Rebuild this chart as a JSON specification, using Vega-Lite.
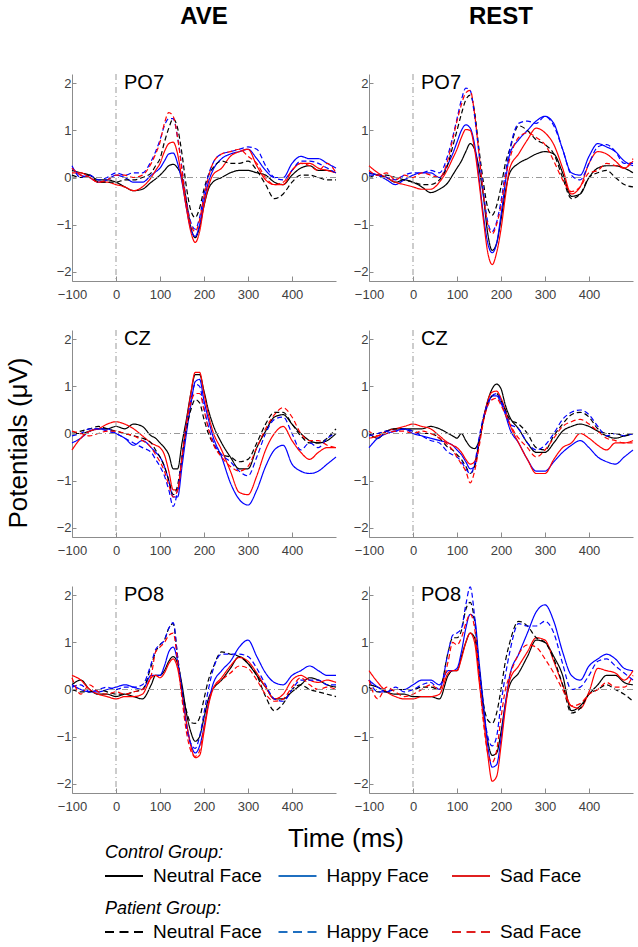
{
"$schema":"https://vega.github.io/schema/vega-lite/v6.json",
"background":"white",
"padding":5,
"spacing":-8,
"config":{"font":"Liberation Sans","view":{"stroke":null},"axis":{"domainColor":"#8c8c8c","tickColor":"#8c8c8c","labelColor":"#404040","labelFontSize":13,"grid":false,"title":null,"labelFlush":false}},
"datasets":{
"leghead":[{"g":"Control","h":"Control Group:"},{"g":"Patient","h":"Patient Group:"}],
"legitem":[{"g":"Control","f":"Neutral Face","k":"CN"},{"g":"Control","f":"Happy Face","k":"CH"},{"g":"Control","f":"Sad Face","k":"CS"},{"g":"Patient","f":"Neutral Face","k":"PN"},{"g":"Patient","f":"Happy Face","k":"PH"},{"g":"Patient","f":"Sad Face","k":"PS"}],
"erp":[
{"c":"AVE","e":"PO7","t":-100,"CN":0.15,"CH":0.2,"CS":0.1,"PN":0.05,"PH":0.25,"PS":0.2},
{"c":"AVE","e":"PO7","t":-80,"CN":0.1,"CH":0.05,"CS":0.1,"PN":0.0,"PH":0.0,"PS":0.05},
{"c":"AVE","e":"PO7","t":-60,"CN":0.05,"CH":0.0,"CS":0.0,"PN":0.05,"PH":0.05,"PS":0.0},
{"c":"AVE","e":"PO7","t":-40,"CN":-0.05,"CH":-0.1,"CS":-0.1,"PN":-0.1,"PH":-0.05,"PS":-0.1},
{"c":"AVE","e":"PO7","t":-20,"CN":-0.05,"CH":-0.05,"CS":-0.1,"PN":-0.1,"PH":0.0,"PS":-0.05},
{"c":"AVE","e":"PO7","t":0,"CN":-0.1,"CH":0.05,"CS":-0.15,"PN":-0.1,"PH":0.1,"PS":0.05},
{"c":"AVE","e":"PO7","t":20,"CN":-0.2,"CH":0.0,"CS":-0.2,"PN":-0.05,"PH":0.05,"PS":0.05},
{"c":"AVE","e":"PO7","t":40,"CN":-0.28,"CH":-0.1,"CS":-0.28,"PN":-0.05,"PH":0.1,"PS":0.0},
{"c":"AVE","e":"PO7","t":60,"CN":-0.25,"CH":-0.1,"CS":-0.2,"PN":0.0,"PH":0.1,"PS":0.05},
{"c":"AVE","e":"PO7","t":80,"CN":-0.1,"CH":0.05,"CS":0.0,"PN":0.1,"PH":0.35,"PS":0.3},
{"c":"AVE","e":"PO7","t":90,"CN":-0.03,"CH":0.12,"CS":0.15,"PN":0.25,"PH":0.55,"PS":0.5},
{"c":"AVE","e":"PO7","t":100,"CN":0.05,"CH":0.2,"CS":0.3,"PN":0.4,"PH":0.8,"PS":0.75},
{"c":"AVE","e":"PO7","t":110,"CN":0.15,"CH":0.35,"CS":0.55,"PN":0.75,"PH":1.1,"PS":1.15},
{"c":"AVE","e":"PO7","t":120,"CN":0.25,"CH":0.5,"CS":0.72,"PN":1.05,"PH":1.25,"PS":1.38},
{"c":"AVE","e":"PO7","t":130,"CN":0.28,"CH":0.52,"CS":0.75,"PN":1.25,"PH":1.25,"PS":1.3},
{"c":"AVE","e":"PO7","t":140,"CN":0.2,"CH":0.3,"CS":0.5,"PN":1.05,"PH":0.85,"PS":0.85},
{"c":"AVE","e":"PO7","t":150,"CN":0.0,"CH":-0.1,"CS":-0.05,"PN":0.5,"PH":0.2,"PS":0.15},
{"c":"AVE","e":"PO7","t":160,"CN":-0.5,"CH":-0.65,"CS":-0.65,"PN":-0.2,"PH":-0.5,"PS":-0.55},
{"c":"AVE","e":"PO7","t":170,"CN":-1.05,"CH":-1.1,"CS":-1.15,"PN":-0.7,"PH":-0.95,"PS":-1.0},
{"c":"AVE","e":"PO7","t":180,"CN":-1.28,"CH":-1.25,"CS":-1.38,"PN":-0.85,"PH":-1.1,"PS":-1.15},
{"c":"AVE","e":"PO7","t":190,"CN":-1.05,"CH":-1.0,"CS":-1.15,"PN":-0.65,"PH":-0.85,"PS":-0.9},
{"c":"AVE","e":"PO7","t":200,"CN":-0.6,"CH":-0.5,"CS":-0.6,"PN":-0.25,"PH":-0.35,"PS":-0.4},
{"c":"AVE","e":"PO7","t":210,"CN":-0.25,"CH":-0.1,"CS":-0.2,"PN":0.05,"PH":0.05,"PS":0.0},
{"c":"AVE","e":"PO7","t":220,"CN":-0.1,"CH":0.15,"CS":0.05,"PN":0.2,"PH":0.3,"PS":0.3},
{"c":"AVE","e":"PO7","t":240,"CN":0.0,"CH":0.4,"CS":0.2,"PN":0.35,"PH":0.5,"PS":0.5},
{"c":"AVE","e":"PO7","t":260,"CN":0.1,"CH":0.5,"CS":0.45,"PN":0.3,"PH":0.55,"PS":0.55},
{"c":"AVE","e":"PO7","t":280,"CN":0.15,"CH":0.55,"CS":0.55,"PN":0.3,"PH":0.6,"PS":0.6},
{"c":"AVE","e":"PO7","t":300,"CN":0.15,"CH":0.6,"CS":0.6,"PN":0.35,"PH":0.65,"PS":0.45},
{"c":"AVE","e":"PO7","t":320,"CN":0.1,"CH":0.4,"CS":0.25,"PN":0.15,"PH":0.6,"PS":0.3},
{"c":"AVE","e":"PO7","t":340,"CN":0.05,"CH":0.15,"CS":-0.05,"PN":-0.15,"PH":0.25,"PS":0.0},
{"c":"AVE","e":"PO7","t":360,"CN":-0.1,"CH":0.0,"CS":-0.15,"PN":-0.45,"PH":0.0,"PS":-0.15},
{"c":"AVE","e":"PO7","t":380,"CN":-0.15,"CH":0.0,"CS":-0.15,"PN":-0.35,"PH":-0.05,"PS":-0.1},
{"c":"AVE","e":"PO7","t":400,"CN":0.05,"CH":0.3,"CS":0.15,"PN":-0.1,"PH":0.15,"PS":0.15},
{"c":"AVE","e":"PO7","t":420,"CN":0.2,"CH":0.45,"CS":0.3,"PN":0.05,"PH":0.35,"PS":0.3},
{"c":"AVE","e":"PO7","t":440,"CN":0.25,"CH":0.4,"CS":0.3,"PN":0.05,"PH":0.35,"PS":0.25},
{"c":"AVE","e":"PO7","t":460,"CN":0.15,"CH":0.4,"CS":0.2,"PN":0.0,"PH":0.3,"PS":0.15},
{"c":"AVE","e":"PO7","t":480,"CN":0.15,"CH":0.3,"CS":0.15,"PN":-0.05,"PH":0.2,"PS":0.3},
{"c":"AVE","e":"PO7","t":500,"CN":0.1,"CH":0.2,"CS":0.1,"PN":-0.05,"PH":0.1,"PS":0.1},
{"c":"REST","e":"PO7","t":-100,"CN":0.1,"CH":0.1,"CS":0.25,"PN":0.0,"PH":0.05,"PS":0.15},
{"c":"REST","e":"PO7","t":-80,"CN":0.05,"CH":0.05,"CS":0.1,"PN":0.05,"PH":0.05,"PS":0.05},
{"c":"REST","e":"PO7","t":-60,"CN":0.0,"CH":-0.05,"CS":0.0,"PN":0.05,"PH":0.0,"PS":0.1},
{"c":"REST","e":"PO7","t":-40,"CN":-0.1,"CH":-0.15,"CS":-0.1,"PN":0.0,"PH":-0.05,"PS":-0.05},
{"c":"REST","e":"PO7","t":-20,"CN":-0.05,"CH":-0.05,"CS":-0.15,"PN":-0.05,"PH":0.05,"PS":0.05},
{"c":"REST","e":"PO7","t":0,"CN":-0.1,"CH":0.05,"CS":-0.2,"PN":-0.1,"PH":0.1,"PS":0.0},
{"c":"REST","e":"PO7","t":20,"CN":-0.2,"CH":0.1,"CS":-0.25,"PN":-0.15,"PH":0.1,"PS":0.1},
{"c":"REST","e":"PO7","t":40,"CN":-0.32,"CH":0.1,"CS":-0.25,"PN":-0.15,"PH":0.15,"PS":0.05},
{"c":"REST","e":"PO7","t":60,"CN":-0.25,"CH":0.0,"CS":-0.1,"PN":-0.05,"PH":0.1,"PS":0.0},
{"c":"REST","e":"PO7","t":80,"CN":-0.1,"CH":0.3,"CS":0.2,"PN":0.3,"PH":0.5,"PS":0.4},
{"c":"REST","e":"PO7","t":90,"CN":0.05,"CH":0.5,"CS":0.4,"PN":0.65,"PH":0.85,"PS":0.8},
{"c":"REST","e":"PO7","t":100,"CN":0.2,"CH":0.75,"CS":0.6,"PN":1.0,"PH":1.25,"PS":1.2},
{"c":"REST","e":"PO7","t":110,"CN":0.35,"CH":1.0,"CS":0.85,"PN":1.35,"PH":1.65,"PS":1.55},
{"c":"REST","e":"PO7","t":120,"CN":0.55,"CH":1.12,"CS":1.02,"PN":1.65,"PH":1.9,"PS":1.8},
{"c":"REST","e":"PO7","t":130,"CN":0.72,"CH":1.05,"CS":1.0,"PN":1.75,"PH":1.85,"PS":1.85},
{"c":"REST","e":"PO7","t":140,"CN":0.6,"CH":0.7,"CS":0.6,"PN":1.4,"PH":1.3,"PS":1.35},
{"c":"REST","e":"PO7","t":150,"CN":0.2,"CH":0.0,"CS":-0.1,"PN":0.6,"PH":0.5,"PS":0.5},
{"c":"REST","e":"PO7","t":160,"CN":-0.4,"CH":-0.8,"CS":-0.9,"PN":-0.1,"PH":-0.3,"PS":-0.35},
{"c":"REST","e":"PO7","t":170,"CN":-1.2,"CH":-1.4,"CS":-1.6,"PN":-0.65,"PH":-0.95,"PS":-1.0},
{"c":"REST","e":"PO7","t":180,"CN":-1.55,"CH":-1.6,"CS":-1.85,"PN":-0.8,"PH":-1.15,"PS":-1.2},
{"c":"REST","e":"PO7","t":190,"CN":-1.4,"CH":-1.4,"CS":-1.6,"PN":-0.6,"PH":-0.95,"PS":-1.0},
{"c":"REST","e":"PO7","t":200,"CN":-0.9,"CH":-0.8,"CS":-1.1,"PN":-0.2,"PH":-0.5,"PS":-0.6},
{"c":"REST","e":"PO7","t":210,"CN":-0.3,"CH":-0.1,"CS":-0.4,"PN":0.3,"PH":0.1,"PS":0.0},
{"c":"REST","e":"PO7","t":220,"CN":0.1,"CH":0.5,"CS":0.2,"PN":0.6,"PH":0.6,"PS":0.4},
{"c":"REST","e":"PO7","t":240,"CN":0.3,"CH":0.8,"CS":0.5,"PN":1.1,"PH":1.15,"PS":0.85},
{"c":"REST","e":"PO7","t":260,"CN":0.4,"CH":1.0,"CS":0.8,"PN":1.0,"PH":1.2,"PS":0.95},
{"c":"REST","e":"PO7","t":280,"CN":0.5,"CH":1.2,"CS":1.05,"PN":0.8,"PH":1.15,"PS":0.85},
{"c":"REST","e":"PO7","t":300,"CN":0.55,"CH":1.3,"CS":0.95,"PN":0.7,"PH":1.3,"PS":0.7},
{"c":"REST","e":"PO7","t":320,"CN":0.5,"CH":1.15,"CS":0.7,"PN":0.5,"PH":1.1,"PS":0.35},
{"c":"REST","e":"PO7","t":340,"CN":0.1,"CH":0.6,"CS":0.2,"PN":0.0,"PH":0.6,"PS":-0.05},
{"c":"REST","e":"PO7","t":360,"CN":-0.4,"CH":0.1,"CS":-0.35,"PN":-0.45,"PH":0.05,"PS":-0.3},
{"c":"REST","e":"PO7","t":380,"CN":-0.35,"CH":0.05,"CS":-0.2,"PN":-0.35,"PH":-0.05,"PS":-0.2},
{"c":"REST","e":"PO7","t":400,"CN":0.0,"CH":0.45,"CS":0.3,"PN":0.0,"PH":0.3,"PS":0.1},
{"c":"REST","e":"PO7","t":420,"CN":0.2,"CH":0.72,"CS":0.55,"PN":0.1,"PH":0.65,"PS":0.15},
{"c":"REST","e":"PO7","t":440,"CN":0.25,"CH":0.65,"CS":0.5,"PN":0.15,"PH":0.7,"PS":0.3},
{"c":"REST","e":"PO7","t":460,"CN":0.25,"CH":0.55,"CS":0.35,"PN":0.0,"PH":0.55,"PS":0.25},
{"c":"REST","e":"PO7","t":480,"CN":0.2,"CH":0.35,"CS":0.2,"PN":-0.15,"PH":0.3,"PS":0.2},
{"c":"REST","e":"PO7","t":500,"CN":0.1,"CH":0.25,"CS":0.35,"PN":-0.2,"PH":0.3,"PS":0.4},
{"c":"AVE","e":"CZ","t":-100,"CN":0.0,"CH":-0.2,"CS":-0.35,"PN":0.0,"PH":-0.05,"PS":0.05},
{"c":"AVE","e":"CZ","t":-80,"CN":0.0,"CH":-0.1,"CS":-0.1,"PN":0.05,"PH":0.0,"PS":0.0},
{"c":"AVE","e":"CZ","t":-60,"CN":0.05,"CH":0.05,"CS":0.05,"PN":0.1,"PH":0.1,"PS":-0.05},
{"c":"AVE","e":"CZ","t":-40,"CN":0.1,"CH":0.1,"CS":0.1,"PN":0.15,"PH":0.1,"PS":0.0},
{"c":"AVE","e":"CZ","t":-20,"CN":0.1,"CH":0.1,"CS":0.2,"PN":0.1,"PH":0.05,"PS":0.05},
{"c":"AVE","e":"CZ","t":0,"CN":0.15,"CH":0.0,"CS":0.25,"PN":0.05,"PH":0.0,"PS":0.05},
{"c":"AVE","e":"CZ","t":20,"CN":0.1,"CH":-0.1,"CS":0.2,"PN":0.0,"PH":-0.1,"PS":0.0},
{"c":"AVE","e":"CZ","t":40,"CN":0.2,"CH":-0.25,"CS":0.1,"PN":-0.05,"PH":-0.2,"PS":-0.05},
{"c":"AVE","e":"CZ","t":60,"CN":0.15,"CH":-0.15,"CS":-0.05,"PN":-0.1,"PH":-0.3,"PS":-0.15},
{"c":"AVE","e":"CZ","t":80,"CN":-0.05,"CH":-0.3,"CS":-0.2,"PN":-0.2,"PH":-0.4,"PS":-0.3},
{"c":"AVE","e":"CZ","t":90,"CN":-0.1,"CH":-0.4,"CS":-0.25,"PN":-0.35,"PH":-0.55,"PS":-0.45},
{"c":"AVE","e":"CZ","t":100,"CN":-0.2,"CH":-0.5,"CS":-0.3,"PN":-0.5,"PH":-0.7,"PS":-0.6},
{"c":"AVE","e":"CZ","t":110,"CN":-0.3,"CH":-0.7,"CS":-0.45,"PN":-0.7,"PH":-0.9,"PS":-0.8},
{"c":"AVE","e":"CZ","t":120,"CN":-0.45,"CH":-1.0,"CS":-0.8,"PN":-1.0,"PH":-1.2,"PS":-1.1},
{"c":"AVE","e":"CZ","t":130,"CN":-0.75,"CH":-1.35,"CS":-1.2,"PN":-1.3,"PH":-1.55,"PS":-1.35},
{"c":"AVE","e":"CZ","t":140,"CN":-0.75,"CH":-1.35,"CS":-1.2,"PN":-1.1,"PH":-1.2,"PS":-1.2},
{"c":"AVE","e":"CZ","t":150,"CN":-0.2,"CH":-0.7,"CS":-0.5,"PN":-0.5,"PH":-0.5,"PS":-0.5},
{"c":"AVE","e":"CZ","t":160,"CN":0.3,"CH":0.0,"CS":0.2,"PN":0.1,"PH":0.2,"PS":0.2},
{"c":"AVE","e":"CZ","t":170,"CN":0.85,"CH":0.6,"CS":0.85,"PN":0.5,"PH":0.7,"PS":0.65},
{"c":"AVE","e":"CZ","t":180,"CN":1.25,"CH":1.1,"CS":1.3,"PN":0.72,"PH":1.05,"PS":0.85},
{"c":"AVE","e":"CZ","t":190,"CN":1.25,"CH":1.15,"CS":1.3,"PN":0.65,"PH":1.0,"PS":0.85},
{"c":"AVE","e":"CZ","t":200,"CN":0.9,"CH":0.7,"CS":0.85,"PN":0.3,"PH":0.55,"PS":0.5},
{"c":"AVE","e":"CZ","t":210,"CN":0.5,"CH":0.3,"CS":0.4,"PN":0.0,"PH":0.15,"PS":0.1},
{"c":"AVE","e":"CZ","t":220,"CN":0.2,"CH":-0.05,"CS":0.05,"PN":-0.2,"PH":-0.15,"PS":-0.2},
{"c":"AVE","e":"CZ","t":240,"CN":-0.2,"CH":-0.5,"CS":-0.35,"PN":-0.45,"PH":-0.45,"PS":-0.5},
{"c":"AVE","e":"CZ","t":260,"CN":-0.5,"CH":-1.05,"CS":-0.8,"PN":-0.5,"PH":-0.6,"PS":-0.7},
{"c":"AVE","e":"CZ","t":280,"CN":-0.75,"CH":-1.4,"CS":-1.25,"PN":-0.6,"PH":-0.8,"PS":-0.8},
{"c":"AVE","e":"CZ","t":300,"CN":-0.75,"CH":-1.52,"CS":-1.3,"PN":-0.55,"PH":-0.9,"PS":-0.7},
{"c":"AVE","e":"CZ","t":320,"CN":-0.3,"CH":-1.2,"CS":-0.9,"PN":-0.2,"PH":-0.5,"PS":-0.3},
{"c":"AVE","e":"CZ","t":340,"CN":0.05,"CH":-0.7,"CS":-0.35,"PN":0.2,"PH":0.0,"PS":0.1},
{"c":"AVE","e":"CZ","t":360,"CN":0.35,"CH":-0.35,"CS":0.0,"PN":0.45,"PH":0.3,"PS":0.4},
{"c":"AVE","e":"CZ","t":380,"CN":0.4,"CH":-0.25,"CS":0.15,"PN":0.45,"PH":0.35,"PS":0.55},
{"c":"AVE","e":"CZ","t":400,"CN":0.2,"CH":-0.65,"CS":-0.15,"PN":0.2,"PH":0.0,"PS":0.35},
{"c":"AVE","e":"CZ","t":420,"CN":0.0,"CH":-0.8,"CS":-0.4,"PN":-0.05,"PH":-0.35,"PS":0.0},
{"c":"AVE","e":"CZ","t":440,"CN":-0.15,"CH":-0.85,"CS":-0.55,"PN":-0.2,"PH":-0.2,"PS":-0.15},
{"c":"AVE","e":"CZ","t":460,"CN":-0.2,"CH":-0.8,"CS":-0.4,"PN":-0.2,"PH":-0.3,"PS":-0.15},
{"c":"AVE","e":"CZ","t":480,"CN":-0.15,"CH":-0.65,"CS":-0.3,"PN":-0.1,"PH":-0.1,"PS":-0.25},
{"c":"AVE","e":"CZ","t":500,"CN":0.0,"CH":-0.5,"CS":-0.3,"PN":0.1,"PH":0.0,"PS":-0.3},
{"c":"REST","e":"CZ","t":-100,"CN":0.0,"CH":-0.3,"CS":-0.1,"PN":0.0,"PH":-0.05,"PS":0.05},
{"c":"REST","e":"CZ","t":-80,"CN":-0.1,"CH":-0.1,"CS":-0.05,"PN":0.0,"PH":0.0,"PS":-0.05},
{"c":"REST","e":"CZ","t":-60,"CN":0.05,"CH":0.0,"CS":0.05,"PN":0.05,"PH":0.05,"PS":0.0},
{"c":"REST","e":"CZ","t":-40,"CN":0.1,"CH":0.05,"CS":0.1,"PN":0.1,"PH":0.05,"PS":0.05},
{"c":"REST","e":"CZ","t":-20,"CN":0.1,"CH":0.1,"CS":0.15,"PN":0.1,"PH":0.1,"PS":0.05},
{"c":"REST","e":"CZ","t":0,"CN":0.1,"CH":0.0,"CS":0.2,"PN":0.05,"PH":0.05,"PS":0.0},
{"c":"REST","e":"CZ","t":20,"CN":0.1,"CH":-0.05,"CS":0.15,"PN":0.0,"PH":-0.05,"PS":0.05},
{"c":"REST","e":"CZ","t":40,"CN":0.15,"CH":-0.1,"CS":0.1,"PN":0.0,"PH":-0.15,"PS":0.0},
{"c":"REST","e":"CZ","t":60,"CN":0.1,"CH":-0.15,"CS":-0.05,"PN":-0.1,"PH":-0.2,"PS":-0.1},
{"c":"REST","e":"CZ","t":80,"CN":0.0,"CH":-0.2,"CS":-0.2,"PN":-0.3,"PH":-0.4,"PS":-0.25},
{"c":"REST","e":"CZ","t":90,"CN":-0.05,"CH":-0.25,"CS":-0.25,"PN":-0.35,"PH":-0.45,"PS":-0.35},
{"c":"REST","e":"CZ","t":100,"CN":-0.1,"CH":-0.35,"CS":-0.3,"PN":-0.45,"PH":-0.5,"PS":-0.5},
{"c":"REST","e":"CZ","t":110,"CN":0.0,"CH":-0.45,"CS":-0.4,"PN":-0.55,"PH":-0.6,"PS":-0.65},
{"c":"REST","e":"CZ","t":120,"CN":-0.15,"CH":-0.6,"CS":-0.55,"PN":-0.7,"PH":-0.75,"PS":-0.8},
{"c":"REST","e":"CZ","t":130,"CN":-0.28,"CH":-0.75,"CS":-0.65,"PN":-0.85,"PH":-0.85,"PS":-1.05},
{"c":"REST","e":"CZ","t":140,"CN":-0.32,"CH":-0.7,"CS":-0.6,"PN":-0.7,"PH":-0.65,"PS":-0.8},
{"c":"REST","e":"CZ","t":150,"CN":-0.15,"CH":-0.2,"CS":-0.2,"PN":-0.2,"PH":-0.1,"PS":-0.3},
{"c":"REST","e":"CZ","t":160,"CN":0.3,"CH":0.3,"CS":0.3,"PN":0.3,"PH":0.35,"PS":0.25},
{"c":"REST","e":"CZ","t":170,"CN":0.7,"CH":0.6,"CS":0.7,"PN":0.65,"PH":0.65,"PS":0.6},
{"c":"REST","e":"CZ","t":180,"CN":0.95,"CH":0.8,"CS":0.88,"PN":0.8,"PH":0.8,"PS":0.72},
{"c":"REST","e":"CZ","t":190,"CN":1.05,"CH":0.8,"CS":0.9,"PN":0.85,"PH":0.85,"PS":0.75},
{"c":"REST","e":"CZ","t":200,"CN":0.95,"CH":0.65,"CS":0.75,"PN":0.7,"PH":0.7,"PS":0.6},
{"c":"REST","e":"CZ","t":210,"CN":0.6,"CH":0.4,"CS":0.5,"PN":0.5,"PH":0.45,"PS":0.4},
{"c":"REST","e":"CZ","t":220,"CN":0.35,"CH":0.1,"CS":0.2,"PN":0.3,"PH":0.2,"PS":0.2},
{"c":"REST","e":"CZ","t":240,"CN":0.1,"CH":-0.2,"CS":-0.2,"PN":0.2,"PH":0.1,"PS":-0.1},
{"c":"REST","e":"CZ","t":260,"CN":-0.2,"CH":-0.55,"CS":-0.55,"PN":0.0,"PH":-0.2,"PS":-0.3},
{"c":"REST","e":"CZ","t":280,"CN":-0.4,"CH":-0.8,"CS":-0.85,"PN":-0.3,"PH":-0.35,"PS":-0.5},
{"c":"REST","e":"CZ","t":300,"CN":-0.4,"CH":-0.8,"CS":-0.85,"PN":-0.35,"PH":-0.25,"PS":-0.35},
{"c":"REST","e":"CZ","t":320,"CN":-0.2,"CH":-0.6,"CS":-0.55,"PN":-0.05,"PH":0.0,"PS":-0.1},
{"c":"REST","e":"CZ","t":340,"CN":0.05,"CH":-0.4,"CS":-0.3,"PN":0.2,"PH":0.3,"PS":0.15},
{"c":"REST","e":"CZ","t":360,"CN":0.15,"CH":-0.25,"CS":-0.2,"PN":0.4,"PH":0.45,"PS":0.25},
{"c":"REST","e":"CZ","t":380,"CN":0.2,"CH":-0.15,"CS":0.0,"PN":0.45,"PH":0.5,"PS":0.3},
{"c":"REST","e":"CZ","t":400,"CN":0.15,"CH":-0.3,"CS":-0.1,"PN":0.35,"PH":0.4,"PS":0.2},
{"c":"REST","e":"CZ","t":420,"CN":0.05,"CH":-0.5,"CS":-0.25,"PN":0.1,"PH":0.15,"PS":0.05},
{"c":"REST","e":"CZ","t":440,"CN":-0.05,"CH":-0.6,"CS":-0.35,"PN":0.0,"PH":-0.05,"PS":-0.1},
{"c":"REST","e":"CZ","t":460,"CN":-0.1,"CH":-0.65,"CS":-0.2,"PN":0.0,"PH":0.0,"PS":-0.15},
{"c":"REST","e":"CZ","t":480,"CN":-0.05,"CH":-0.5,"CS":-0.2,"PN":-0.05,"PH":-0.05,"PS":-0.2},
{"c":"REST","e":"CZ","t":500,"CN":0.0,"CH":-0.35,"CS":-0.15,"PN":0.0,"PH":0.0,"PS":-0.2},
{"c":"AVE","e":"PO8","t":-100,"CN":0.1,"CH":0.1,"CS":0.3,"PN":0.0,"PH":0.05,"PS":0.25},
{"c":"AVE","e":"PO8","t":-80,"CN":0.2,"CH":0.0,"CS":0.2,"PN":-0.05,"PH":0.1,"PS":-0.1},
{"c":"AVE","e":"PO8","t":-60,"CN":0.0,"CH":-0.05,"CS":0.0,"PN":-0.05,"PH":-0.05,"PS":0.1},
{"c":"AVE","e":"PO8","t":-40,"CN":-0.1,"CH":-0.05,"CS":-0.1,"PN":0.0,"PH":0.0,"PS":-0.05},
{"c":"AVE","e":"PO8","t":-20,"CN":-0.1,"CH":0.0,"CS":-0.15,"PN":-0.05,"PH":0.05,"PS":-0.1},
{"c":"AVE","e":"PO8","t":0,"CN":-0.15,"CH":0.05,"CS":-0.2,"PN":-0.1,"PH":0.0,"PS":-0.05},
{"c":"AVE","e":"PO8","t":20,"CN":-0.1,"CH":0.1,"CS":-0.15,"PN":-0.1,"PH":0.05,"PS":-0.1},
{"c":"AVE","e":"PO8","t":40,"CN":-0.15,"CH":0.05,"CS":-0.15,"PN":-0.05,"PH":0.05,"PS":-0.05},
{"c":"AVE","e":"PO8","t":60,"CN":-0.2,"CH":0.0,"CS":-0.1,"PN":0.0,"PH":0.1,"PS":0.0},
{"c":"AVE","e":"PO8","t":80,"CN":0.1,"CH":0.3,"CS":0.25,"PN":0.5,"PH":0.55,"PS":0.3},
{"c":"AVE","e":"PO8","t":90,"CN":0.3,"CH":0.3,"CS":0.3,"PN":0.8,"PH":0.85,"PS":0.8},
{"c":"AVE","e":"PO8","t":100,"CN":0.3,"CH":0.3,"CS":0.25,"PN":0.95,"PH":0.95,"PS":0.9},
{"c":"AVE","e":"PO8","t":110,"CN":0.4,"CH":0.5,"CS":0.35,"PN":1.05,"PH":1.05,"PS":1.0},
{"c":"AVE","e":"PO8","t":120,"CN":0.6,"CH":0.8,"CS":0.55,"PN":1.3,"PH":1.3,"PS":1.15},
{"c":"AVE","e":"PO8","t":130,"CN":0.7,"CH":0.9,"CS":0.65,"PN":1.4,"PH":1.42,"PS":1.2},
{"c":"AVE","e":"PO8","t":140,"CN":0.55,"CH":0.6,"CS":0.45,"PN":0.7,"PH":0.7,"PS":0.6},
{"c":"AVE","e":"PO8","t":150,"CN":0.1,"CH":0.0,"CS":-0.1,"PN":0.0,"PH":-0.1,"PS":-0.2},
{"c":"AVE","e":"PO8","t":160,"CN":-0.5,"CH":-0.7,"CS":-0.7,"PN":-0.45,"PH":-0.8,"PS":-0.9},
{"c":"AVE","e":"PO8","t":170,"CN":-0.9,"CH":-1.15,"CS":-1.2,"PN":-0.7,"PH":-1.15,"PS":-1.3},
{"c":"AVE","e":"PO8","t":180,"CN":-1.1,"CH":-1.35,"CS":-1.45,"PN":-0.72,"PH":-1.25,"PS":-1.42},
{"c":"AVE","e":"PO8","t":190,"CN":-1.0,"CH":-1.2,"CS":-1.4,"PN":-0.6,"PH":-1.0,"PS":-1.3},
{"c":"AVE","e":"PO8","t":200,"CN":-0.6,"CH":-0.8,"CS":-0.9,"PN":-0.2,"PH":-0.5,"PS":-0.8},
{"c":"AVE","e":"PO8","t":210,"CN":-0.2,"CH":-0.3,"CS":-0.35,"PN":0.2,"PH":0.0,"PS":-0.3},
{"c":"AVE","e":"PO8","t":220,"CN":0.0,"CH":0.1,"CS":0.0,"PN":0.45,"PH":0.4,"PS":0.0},
{"c":"AVE","e":"PO8","t":240,"CN":0.2,"CH":0.4,"CS":0.25,"PN":0.8,"PH":0.75,"PS":0.2},
{"c":"AVE","e":"PO8","t":260,"CN":0.45,"CH":0.6,"CS":0.5,"PN":0.75,"PH":0.75,"PS":0.35},
{"c":"AVE","e":"PO8","t":280,"CN":0.7,"CH":0.9,"CS":0.68,"PN":0.7,"PH":0.75,"PS":0.5},
{"c":"AVE","e":"PO8","t":300,"CN":0.55,"CH":1.05,"CS":0.6,"PN":0.55,"PH":0.7,"PS":0.45},
{"c":"AVE","e":"PO8","t":320,"CN":0.3,"CH":0.7,"CS":0.35,"PN":0.3,"PH":0.45,"PS":0.2},
{"c":"AVE","e":"PO8","t":340,"CN":0.05,"CH":0.35,"CS":0.05,"PN":-0.15,"PH":0.1,"PS":-0.1},
{"c":"AVE","e":"PO8","t":360,"CN":-0.2,"CH":0.15,"CS":-0.2,"PN":-0.45,"PH":-0.2,"PS":-0.25},
{"c":"AVE","e":"PO8","t":380,"CN":-0.2,"CH":0.1,"CS":-0.1,"PN":-0.3,"PH":-0.25,"PS":-0.2},
{"c":"AVE","e":"PO8","t":400,"CN":-0.05,"CH":0.3,"CS":0.2,"PN":0.0,"PH":0.0,"PS":0.05},
{"c":"AVE","e":"PO8","t":420,"CN":0.1,"CH":0.4,"CS":0.3,"PN":0.1,"PH":0.2,"PS":0.25},
{"c":"AVE","e":"PO8","t":440,"CN":0.25,"CH":0.5,"CS":0.2,"PN":0.0,"PH":0.2,"PS":0.1},
{"c":"AVE","e":"PO8","t":460,"CN":0.2,"CH":0.4,"CS":0.15,"PN":-0.05,"PH":0.2,"PS":0.0},
{"c":"AVE","e":"PO8","t":480,"CN":0.1,"CH":0.3,"CS":0.2,"PN":-0.1,"PH":0.1,"PS":0.05},
{"c":"AVE","e":"PO8","t":500,"CN":0.05,"CH":0.3,"CS":0.15,"PN":-0.15,"PH":0.1,"PS":0.0},
{"c":"REST","e":"PO8","t":-100,"CN":0.1,"CH":0.2,"CS":0.4,"PN":0.05,"PH":0.2,"PS":0.2},
{"c":"REST","e":"PO8","t":-80,"CN":0.05,"CH":0.05,"CS":0.15,"PN":-0.05,"PH":-0.05,"PS":-0.2},
{"c":"REST","e":"PO8","t":-60,"CN":-0.05,"CH":-0.05,"CS":-0.05,"PN":-0.05,"PH":-0.05,"PS":0.05},
{"c":"REST","e":"PO8","t":-40,"CN":-0.1,"CH":0.0,"CS":-0.15,"PN":0.0,"PH":0.05,"PS":-0.05},
{"c":"REST","e":"PO8","t":-20,"CN":-0.1,"CH":0.0,"CS":-0.2,"PN":0.0,"PH":-0.05,"PS":-0.15},
{"c":"REST","e":"PO8","t":0,"CN":-0.15,"CH":0.1,"CS":-0.2,"PN":0.0,"PH":0.0,"PS":-0.1},
{"c":"REST","e":"PO8","t":20,"CN":-0.15,"CH":0.2,"CS":-0.15,"PN":0.05,"PH":0.1,"PS":0.0},
{"c":"REST","e":"PO8","t":40,"CN":-0.15,"CH":0.2,"CS":-0.15,"PN":0.05,"PH":0.15,"PS":0.1},
{"c":"REST","e":"PO8","t":60,"CN":-0.2,"CH":0.1,"CS":-0.1,"PN":0.0,"PH":0.0,"PS":0.0},
{"c":"REST","e":"PO8","t":80,"CN":0.3,"CH":0.4,"CS":0.35,"PN":0.8,"PH":0.8,"PS":0.6},
{"c":"REST","e":"PO8","t":90,"CN":0.4,"CH":0.4,"CS":0.4,"PN":1.1,"PH":1.15,"PS":1.0},
{"c":"REST","e":"PO8","t":100,"CN":0.4,"CH":0.45,"CS":0.4,"PN":1.1,"PH":1.2,"PS":0.95},
{"c":"REST","e":"PO8","t":110,"CN":0.7,"CH":0.8,"CS":0.65,"PN":1.25,"PH":1.3,"PS":1.1},
{"c":"REST","e":"PO8","t":120,"CN":1.0,"CH":1.3,"CS":1.0,"PN":1.7,"PH":1.8,"PS":1.4},
{"c":"REST","e":"PO8","t":130,"CN":1.2,"CH":1.6,"CS":1.2,"PN":1.85,"PH":2.18,"PS":1.6},
{"c":"REST","e":"PO8","t":140,"CN":1.1,"CH":1.5,"CS":1.0,"PN":1.45,"PH":1.55,"PS":1.3},
{"c":"REST","e":"PO8","t":150,"CN":0.4,"CH":0.6,"CS":0.2,"PN":0.5,"PH":0.5,"PS":0.3},
{"c":"REST","e":"PO8","t":160,"CN":-0.4,"CH":-0.3,"CS":-0.6,"PN":-0.3,"PH":-0.4,"PS":-0.7},
{"c":"REST","e":"PO8","t":170,"CN":-1.1,"CH":-1.2,"CS":-1.4,"PN":-0.65,"PH":-1.0,"PS":-1.35},
{"c":"REST","e":"PO8","t":180,"CN":-1.4,"CH":-1.65,"CS":-1.95,"PN":-0.72,"PH":-1.2,"PS":-1.55},
{"c":"REST","e":"PO8","t":190,"CN":-1.35,"CH":-1.6,"CS":-1.85,"PN":-0.5,"PH":-1.0,"PS":-1.3},
{"c":"REST","e":"PO8","t":200,"CN":-0.9,"CH":-1.05,"CS":-1.2,"PN":0.0,"PH":-0.3,"PS":-0.6},
{"c":"REST","e":"PO8","t":210,"CN":-0.3,"CH":-0.3,"CS":-0.4,"PN":0.6,"PH":0.3,"PS":0.0},
{"c":"REST","e":"PO8","t":220,"CN":0.1,"CH":0.3,"CS":0.2,"PN":1.0,"PH":0.8,"PS":0.3},
{"c":"REST","e":"PO8","t":240,"CN":0.35,"CH":0.75,"CS":0.5,"PN":1.45,"PH":1.4,"PS":0.75},
{"c":"REST","e":"PO8","t":260,"CN":0.7,"CH":1.2,"CS":0.8,"PN":1.35,"PH":1.35,"PS":0.95},
{"c":"REST","e":"PO8","t":280,"CN":1.05,"CH":1.65,"CS":1.1,"PN":1.1,"PH":1.35,"PS":0.9},
{"c":"REST","e":"PO8","t":300,"CN":1.0,"CH":1.8,"CS":1.05,"PN":1.0,"PH":1.45,"PS":0.65},
{"c":"REST","e":"PO8","t":320,"CN":0.7,"CH":1.45,"CS":0.6,"PN":0.65,"PH":1.2,"PS":0.35},
{"c":"REST","e":"PO8","t":340,"CN":0.3,"CH":0.8,"CS":0.1,"PN":0.1,"PH":0.55,"PS":0.0},
{"c":"REST","e":"PO8","t":360,"CN":-0.45,"CH":0.3,"CS":-0.35,"PN":-0.5,"PH":0.0,"PS":-0.35},
{"c":"REST","e":"PO8","t":380,"CN":-0.35,"CH":0.2,"CS":-0.4,"PN":-0.4,"PH":0.05,"PS":-0.3},
{"c":"REST","e":"PO8","t":400,"CN":-0.1,"CH":0.5,"CS":-0.05,"PN":-0.1,"PH":0.3,"PS":-0.1},
{"c":"REST","e":"PO8","t":420,"CN":0.1,"CH":0.65,"CS":0.45,"PN":0.0,"PH":0.6,"PS":0.0},
{"c":"REST","e":"PO8","t":440,"CN":0.3,"CH":0.75,"CS":0.4,"PN":0.1,"PH":0.65,"PS":0.15},
{"c":"REST","e":"PO8","t":460,"CN":0.3,"CH":0.65,"CS":0.35,"PN":0.0,"PH":0.5,"PS":0.05},
{"c":"REST","e":"PO8","t":480,"CN":0.15,"CH":0.45,"CS":0.2,"PN":-0.1,"PH":0.35,"PS":0.05},
{"c":"REST","e":"PO8","t":500,"CN":0.1,"CH":0.4,"CS":0.4,"PN":-0.25,"PH":0.2,"PS":0.3}
]},
"resolve":{"scale":{"color":"independent","strokeDash":"independent","x":"independent","y":"independent"}},
"vconcat":[
{
"data":{"name":"erp"},
"transform":[{"fold":["CN","CH","CS","PN","PH","PS"],"as":["s","v"]}],
"facet":{
"row":{"field":"e","type":"nominal","sort":["PO7","CZ","PO8"],"title":"Potentials (μV)","header":{"labels":false,"titleFontSize":26,"titleFontWeight":"normal","titleColor":"black","titlePadding":14}},
"column":{"field":"c","type":"nominal","sort":["AVE","REST"],"title":"Time (ms)","header":{"labelOrient":"top","titleOrient":"bottom","labelFontSize":24,"labelFontWeight":"bold","labelColor":"black","labelPadding":44,"titleFontSize":26,"titleFontWeight":"normal","titleColor":"black","titlePadding":3}}
},
"spacing":{"row":27,"column":14},
"resolve":{"axis":{"x":"independent","y":"independent"}},
"spec":{
"width":264,"height":207,
"layer":[
{"mark":{"type":"line","strokeWidth":1.2,"interpolate":"monotone"},
"encoding":{
"x":{"field":"t","type":"quantitative","scale":{"domain":[-100,500],"nice":false},"axis":{"values":[-100,0,100,200,300,400],"tickSize":-5,"labelPadding":12}},
"y":{"field":"v","type":"quantitative","scale":{"domain":[-2.2,2.2],"nice":false},"axis":{"values":[-2,-1,0,1,2],"tickSize":-4,"labelPadding":5}},
"color":{"field":"s","type":"nominal","scale":{"domain":["CN","CH","CS","PN","PH","PS"],"range":["#000000","#0000ff","#ff0000","#000000","#0000ff","#ff0000"]},"legend":null},
"strokeDash":{"field":"s","type":"nominal","scale":{"domain":["CN","CH","CS","PN","PH","PS"],"range":[[1,0],[1,0],[1,0],[5,3],[5,3],[5,3]]},"legend":null}}},
{"transform":[{"aggregate":[{"op":"count","as":"n"}],"groupby":["c","e"]}],
"mark":{"type":"rule","stroke":"#999999","strokeWidth":1,"strokeDash":[6,3,1,3]},
"encoding":{"y":{"datum":0,"type":"quantitative"}}},
{"transform":[{"aggregate":[{"op":"count","as":"n"}],"groupby":["c","e"]}],
"mark":{"type":"rule","stroke":"#999999","strokeWidth":1,"strokeDash":[6,3,1,3]},
"encoding":{"x":{"datum":0,"type":"quantitative"}}},
{"transform":[{"aggregate":[{"op":"count","as":"n"}],"groupby":["c","e"]}],
"mark":{"type":"text","align":"left","baseline":"alphabetic","fontSize":20,"dx":8,"color":"black"},
"encoding":{"x":{"datum":0,"type":"quantitative"},"y":{"datum":1.88,"type":"quantitative"},"text":{"field":"e"}}}
]}
},
{
"width":600,"height":80,
"layer":[
{"data":{"name":"legitem"},"mark":{"type":"point","shape":"stroke","size":1444,"strokeWidth":2,"opacity":1,"filled":false},
"encoding":{
"x":{"field":"f","type":"nominal","scale":{"type":"point","padding":0,"domain":["Neutral Face","Happy Face","Sad Face"],"range":[52,399]},"axis":null},
"y":{"field":"g","type":"nominal","scale":{"type":"point","padding":0,"domain":["Control","Patient"],"range":[20,76]},"axis":null},
"color":{"field":"k","type":"nominal","scale":{"domain":["CN","CH","CS","PN","PH","PS"],"range":["#000000","#1f6fc0","#e02020","#000000","#1f6fc0","#e02020"]},"legend":null},
"strokeDash":{"field":"k","type":"nominal","scale":{"domain":["CN","CH","CS","PN","PH","PS"],"range":[[1,0],[1,0],[1,0],[9,5.5],[9,5.5],[9,5.5]]},"legend":null}}},
{"data":{"name":"legitem"},"mark":{"type":"text","align":"left","baseline":"middle","fontSize":19,"dx":29,"color":"black"},
"encoding":{"x":{"field":"f","type":"nominal"},"y":{"field":"g","type":"nominal"},"text":{"field":"f"}}},
{"data":{"name":"leghead"},"mark":{"type":"text","align":"left","baseline":"middle","fontSize":18,"fontStyle":"italic","dx":-19,"dy":-23,"color":"black"},
"encoding":{"x":{"datum":"Neutral Face","type":"nominal"},"y":{"field":"g","type":"nominal"},"text":{"field":"h"}}}
]}
]
}
